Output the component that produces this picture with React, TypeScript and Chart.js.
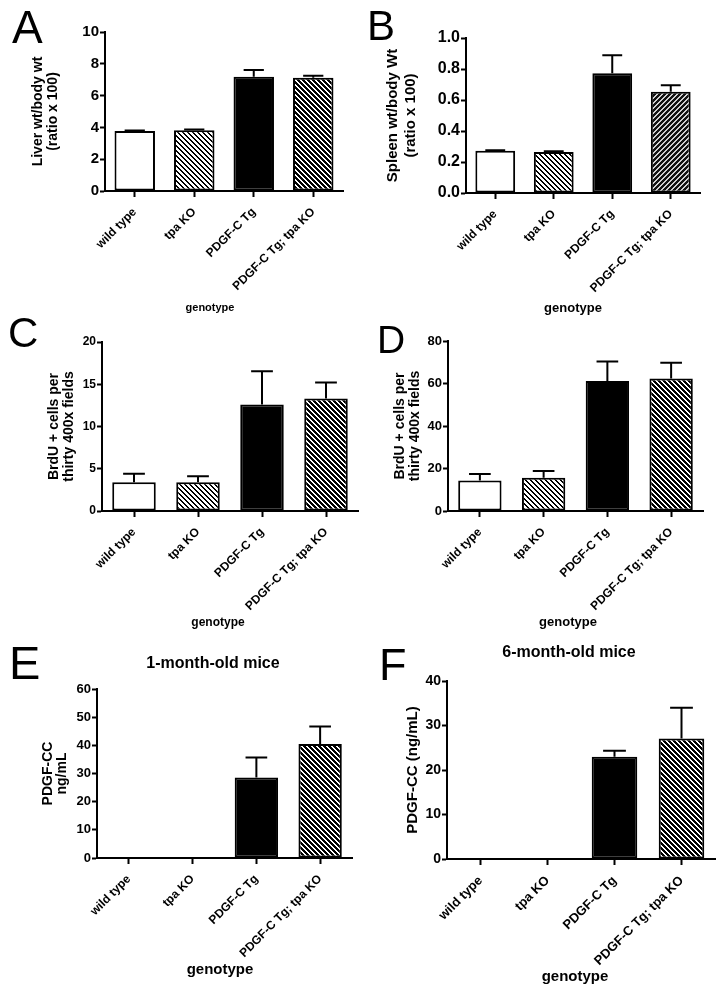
import React, { useEffect, useRef } from 'react';
import { Chart, registerables } from 'chart.js';

Chart.register(...registerables);

const FONT = '"Liberation Sans", Arial, Helvetica, sans-serif';

// ---------- data ----------
const categories = ['wild type', 'tpa KO', 'PDGF-C Tg', 'PDGF-C Tg; tpa KO'];

const liverMean = [3.78, 3.82, 7.19, 7.13];
const liverSem = [0.02, 0.05, 0.42, 0.12];
const liverYTicks = [0, 2, 4, 6, 8, 10];

const spleenMean = [0.272, 0.265, 0.772, 0.654];
const spleenSem = [0.004, 0.004, 0.116, 0.041];
const spleenYTicks = [0, 0.2, 0.4, 0.6, 0.8, 1.0];

const brduCMean = [3.4, 3.4, 12.6, 13.3];
const brduCSem = [1.0, 0.7, 3.95, 1.9];
const brduCYTicks = [0, 5, 10, 15, 20];

const brduDMean = [14.4, 15.7, 61.2, 62.4];
const brduDSem = [3.0, 3.1, 9.1, 7.4];
const brduDYTicks = [0, 20, 40, 60, 80];

const pdgf1Mean = [0, 0, 28.6, 40.5];
const pdgf1Sem = [0, 0, 7.1, 6.2];
const pdgf1YTicks = [0, 10, 20, 30, 40, 50, 60];

const pdgf6Mean = [0, 0, 23.0, 27.1];
const pdgf6Sem = [0, 0, 1.3, 6.9];
const pdgf6YTicks = [0, 10, 20, 30, 40];

const xAxisTitle = 'genotype';

// ---------- helpers ----------
function hatch(bg: string, fg: string, dir: 'back' | 'fwd', size: number, w: number): CanvasPattern | string {
  const c = document.createElement('canvas');
  c.width = size;
  c.height = size;
  const g = c.getContext('2d');
  if (!g) return bg;
  g.fillStyle = bg;
  g.fillRect(0, 0, size, size);
  g.fillStyle = fg;
  for (let yy = 0; yy < size; yy++) {
    for (let xx = 0; xx < size; xx++) {
      const d = dir === 'back' ? (((xx - yy) % size) + size) % size : (xx + yy) % size;
      if (d < w) g.fillRect(xx, yy, 1, 1);
    }
  }
  const p = g.createPattern(c, 'repeat');
  return p || bg;
}

type PanelSpec = {
  mean: number[];
  sem: number[];
  yTicks: number[];
  decimals: number;
  yTitle: string[];
  canvas: { x: number; y: number; w: number; h: number };
  area: { left: number; top: number; right: number; bottom: number };
  yTickFont: number;
  yTitleFont: number;
  yTitleLH: number;
  yTitleX: number;
  xTickFont: number;
  caption: { x: number; y: number; size: number };
  slashCombined?: boolean;
};

const panels: PanelSpec[] = [
  {
    mean: liverMean, sem: liverSem, yTicks: liverYTicks, decimals: 0,
    yTitle: ['Liver wt/body wt', '(ratio x 100)'],
    canvas: { x: 0, y: 0, w: 360, h: 320 },
    area: { left: 105, top: 32, right: 343, bottom: 191 },
    yTickFont: 15, yTitleFont: 14, yTitleLH: 15, yTitleX: 38, xTickFont: 12,
    caption: { x: 210, y: 308, size: 11 },
  },
  {
    mean: spleenMean, sem: spleenSem, yTicks: spleenYTicks, decimals: 1,
    yTitle: ['Spleen wt/body Wt', '(ratio x 100)'],
    canvas: { x: 360, y: 0, w: 363, h: 320 },
    area: { left: 466, top: 38, right: 700, bottom: 193 },
    yTickFont: 16, yTitleFont: 15, yTitleLH: 18, yTitleX: 393, xTickFont: 12,
    caption: { x: 573, y: 308, size: 13 },
    slashCombined: true,
  },
  {
    mean: brduCMean, sem: brduCSem, yTicks: brduCYTicks, decimals: 0,
    yTitle: ['BrdU + cells per', 'thirty 400x fields'],
    canvas: { x: 0, y: 320, w: 360, h: 330 },
    area: { left: 102, top: 342, right: 358, bottom: 511 },
    yTickFont: 12, yTitleFont: 14, yTitleLH: 15, yTitleX: 54, xTickFont: 12,
    caption: { x: 218, y: 623, size: 12 },
  },
  {
    mean: brduDMean, sem: brduDSem, yTicks: brduDYTicks, decimals: 0,
    yTitle: ['BrdU + cells per', 'thirty 400x fields'],
    canvas: { x: 360, y: 320, w: 363, h: 330 },
    area: { left: 448, top: 341, right: 703, bottom: 511 },
    yTickFont: 13, yTitleFont: 14, yTitleLH: 15, yTitleX: 400, xTickFont: 12,
    caption: { x: 568, y: 622, size: 13 },
  },
  {
    mean: pdgf1Mean, sem: pdgf1Sem, yTicks: pdgf1YTicks, decimals: 0,
    yTitle: ['PDGF-CC', 'ng/mL'],
    canvas: { x: 0, y: 650, w: 360, h: 343 },
    area: { left: 97, top: 689, right: 352, bottom: 858 },
    yTickFont: 13, yTitleFont: 14, yTitleLH: 14, yTitleX: 48, xTickFont: 12,
    caption: { x: 220, y: 970, size: 15 },
  },
  {
    mean: pdgf6Mean, sem: pdgf6Sem, yTicks: pdgf6YTicks, decimals: 0,
    yTitle: ['PDGF-CC (ng/mL)'],
    canvas: { x: 360, y: 650, w: 363, h: 343 },
    area: { left: 447, top: 681, right: 715, bottom: 859 },
    yTickFont: 14, yTitleFont: 15, yTitleLH: 18, yTitleX: 413, xTickFont: 13,
    caption: { x: 575, y: 977, size: 15 },
  },
];

function buildConfig(spec: PanelSpec): any {
  const { canvas, area } = spec;
  const padTop = area.top - canvas.y;
  const padRight = canvas.x + canvas.w - area.right;
  const yWidth = area.left - canvas.x;
  const xHeight = canvas.y + canvas.h - area.bottom;
  const yTitlePad = spec.yTitleX - canvas.x - spec.yTitleLH / 2;

  const fills = [
    '#ffffff',
    hatch('#ffffff', '#000000', 'back', 5, 2),
    '#000000',
    spec.slashCombined
      ? hatch('#111111', '#cfcfcf', 'fwd', 5, 2)
      : hatch('#000000', '#ffffff', 'back', 5, 2),
  ];

  const errorBars = {
    id: 'errorBars',
    afterDatasetsDraw(chart: any) {
      const ctx = chart.ctx;
      const meta = chart.getDatasetMeta(0);
      const yScale = chart.scales.y;
      ctx.save();
      ctx.strokeStyle = '#000';
      ctx.lineWidth = 2;
      meta.data.forEach((bar: any, i: number) => {
        const e = spec.sem[i];
        if (!e || !spec.mean[i]) return;
        const { x, y, width } = bar.getProps(['x', 'y', 'width'], true);
        const yTop = yScale.getPixelForValue(spec.mean[i] + e);
        ctx.beginPath();
        ctx.moveTo(x, y);
        ctx.lineTo(x, yTop);
        ctx.moveTo(x - width / 4, yTop);
        ctx.lineTo(x + width / 4, yTop);
        ctx.stroke();
      });
      ctx.restore();
    },
  };

  const caption = {
    id: 'caption',
    afterDraw(chart: any) {
      const ctx = chart.ctx;
      ctx.save();
      ctx.font = `bold ${spec.caption.size}px ${FONT}`;
      ctx.fillStyle = '#000';
      ctx.textAlign = 'center';
      ctx.textBaseline = 'middle';
      ctx.fillText(xAxisTitle, spec.caption.x - canvas.x, spec.caption.y - canvas.y);
      ctx.restore();
    },
  };

  const yMin = spec.yTicks[0];
  const yMax = spec.yTicks[spec.yTicks.length - 1];

  return {
    type: 'bar',
    data: {
      labels: categories,
      datasets: [
        {
          data: spec.mean,
          backgroundColor: fills,
          borderColor: '#000',
          borderWidth: 2,
          borderSkipped: false,
          barPercentage: 0.68,
          categoryPercentage: 1,
        },
      ],
    },
    options: {
      responsive: false,
      animation: false,
      devicePixelRatio: 1,
      events: [],
      layout: { padding: { left: 0, top: padTop, right: padRight, bottom: 0 } },
      plugins: {
        legend: { display: false },
        tooltip: { enabled: false },
        title: { display: false },
      },
      scales: {
        x: {
          grid: {
            display: true,
            drawOnChartArea: false,
            offset: false,
            tickLength: 6,
            tickWidth: 2,
            tickColor: '#000',
          },
          border: { display: true, color: '#000', width: 2 },
          ticks: {
            autoSkip: false,
            minRotation: 45,
            maxRotation: 45,
            padding: 8,
            color: '#000',
            font: { family: FONT, size: spec.xTickFont, weight: 'bold' },
          },
          afterFit: (s: any) => {
            s.height = xHeight;
          },
        },
        y: {
          min: yMin,
          max: yMax,
          afterBuildTicks: (s: any) => {
            s.ticks = spec.yTicks.map((v) => ({ value: v }));
          },
          grid: {
            display: true,
            drawOnChartArea: false,
            tickLength: 5,
            tickWidth: 2,
            tickColor: '#000',
          },
          border: { display: true, color: '#000', width: 2 },
          ticks: {
            padding: 1,
            color: '#000',
            font: { family: FONT, size: spec.yTickFont, weight: 'bold' },
            callback: (v: any) => Number(v).toFixed(spec.decimals),
          },
          title: {
            display: true,
            text: spec.yTitle,
            color: '#000',
            font: { family: FONT, size: spec.yTitleFont, weight: 'bold', lineHeight: `${spec.yTitleLH}px` },
            padding: { top: yTitlePad, bottom: 0 },
          },
          afterFit: (s: any) => {
            s.width = yWidth;
          },
        },
      },
    },
    plugins: [errorBars, caption],
  };
}

function Panel({ spec }: { spec: PanelSpec }) {
  const ref = useRef<HTMLCanvasElement>(null);
  useEffect(() => {
    if (!ref.current) return;
    const chart = new Chart(ref.current, buildConfig(spec));
    return () => chart.destroy();
  }, [spec]);
  const { x, y, w, h } = spec.canvas;
  return (
    <canvas
      ref={ref}
      width={w}
      height={h}
      style={{ position: 'absolute', left: x, top: y, width: w, height: h }}
    />
  );
}

const letters = [
  { t: 'A', x: 12, y: 4, s: 46 },
  { t: 'B', x: 367, y: 4.5, s: 42 },
  { t: 'C', x: 8, y: 311.5, s: 42 },
  { t: 'D', x: 377, y: 320, s: 39 },
  { t: 'E', x: 9, y: 639, s: 47 },
  { t: 'F', x: 379, y: 642, s: 45 },
];

const titles = [
  { t: '1-month-old mice', x: 213, y: 662.5, s: 16 },
  { t: '6-month-old mice', x: 569, y: 652, s: 16 },
];

export default function App() {
  return (
    <div
      style={{
        position: 'absolute',
        left: 0,
        top: 0,
        width: 723,
        height: 993,
        background: '#fff',
        overflow: 'hidden',
        fontFamily: FONT,
      }}
    >
      {panels.map((p, i) => (
        <Panel key={i} spec={p} />
      ))}
      {letters.map((l) => (
        <div
          key={l.t}
          style={{
            position: 'absolute',
            left: l.x,
            top: l.y,
            fontSize: l.s,
            lineHeight: `${l.s}px`,
            color: '#000',
            fontWeight: 'normal',
          }}
        >
          {l.t}
        </div>
      ))}
      {titles.map((t) => (
        <div
          key={t.t}
          style={{
            position: 'absolute',
            left: t.x,
            top: t.y,
            transform: 'translate(-50%, -50%)',
            fontSize: t.s,
            lineHeight: `${t.s}px`,
            fontWeight: 'bold',
            whiteSpace: 'nowrap',
            color: '#000',
          }}
        >
          {t.t}
        </div>
      ))}
    </div>
  );
}
